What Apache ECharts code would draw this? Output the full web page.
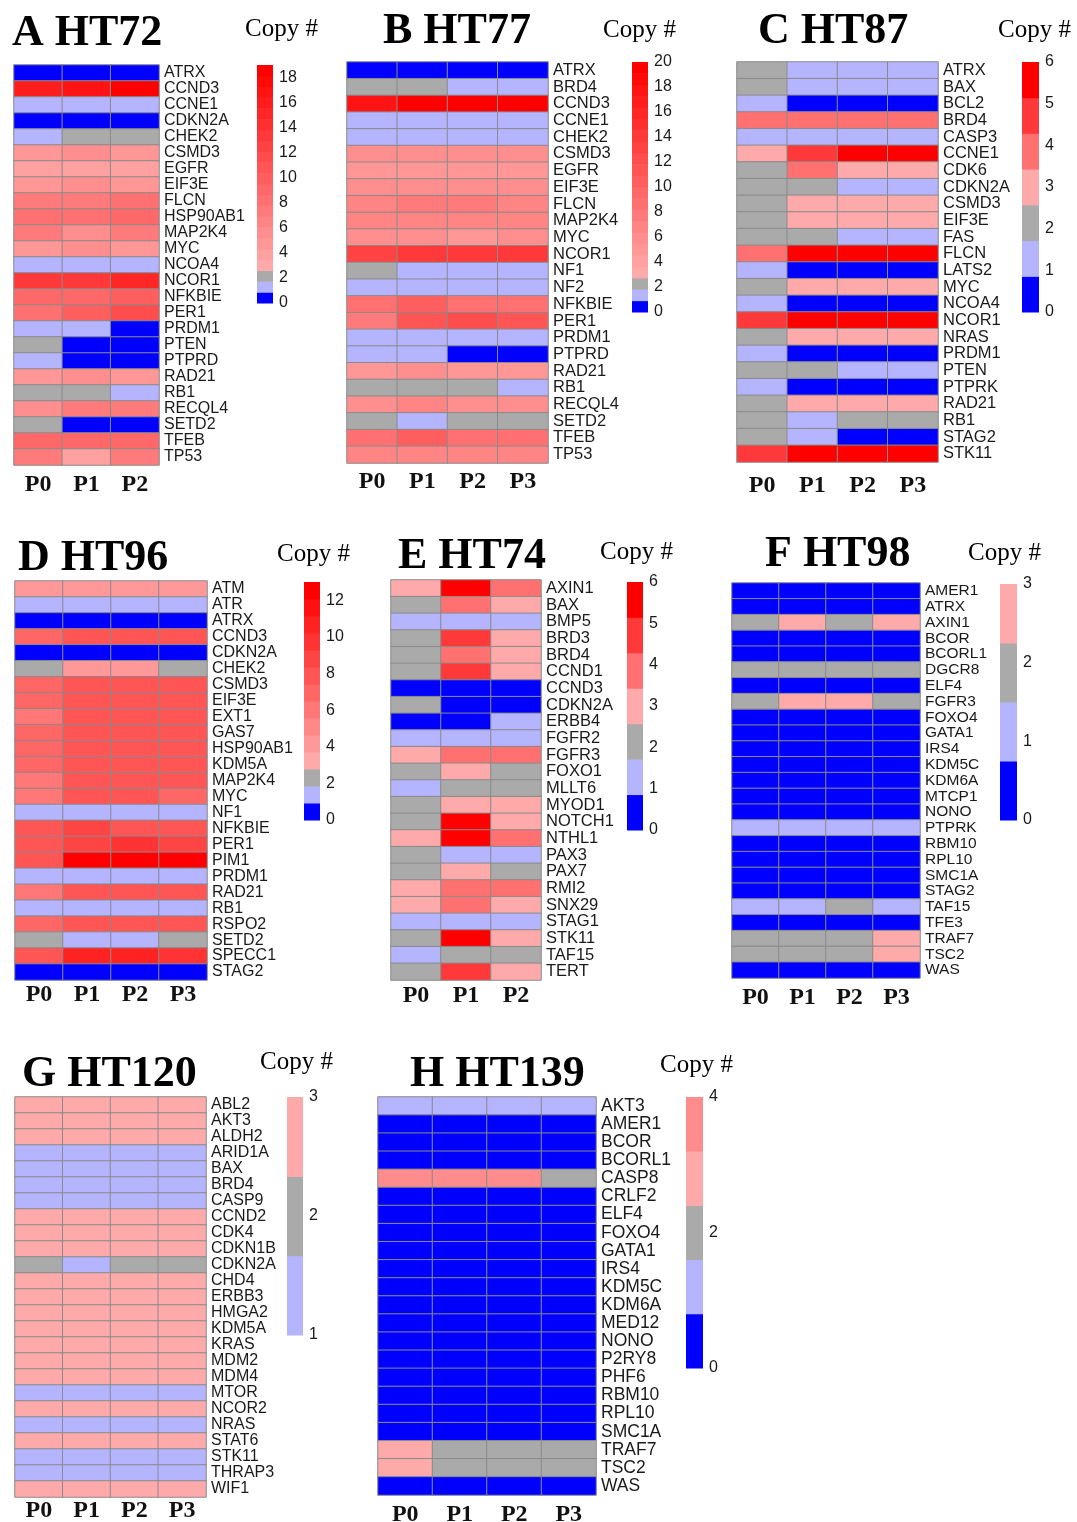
<!DOCTYPE html>
<html>
<head>
<meta charset="utf-8">
<script src="https://cdn.jsdelivr.net/npm/echarts@6/dist/echarts.min.js"></script>
<style>
  html, body { margin: 0; padding: 0; background: #fff; }
  #chart { width: 1077px; height: 1522px; }
</style>
</head>
<body>
<div id="chart"></div>
<script>
// passages
const samples3 = ['P0', 'P1', 'P2'];
const samples4 = ['P0', 'P1', 'P2', 'P3'];

// A HT72
const genesA = ['ATRX','CCND3','CCNE1','CDKN2A','CHEK2','CSMD3','EGFR','EIF3E','FLCN','HSP90AB1','MAP2K4','MYC','NCOA4','NCOR1','NFKBIE','PER1','PRDM1','PTEN','PTPRD','RAD21','RB1','RECQL4','SETD2','TFEB','TP53'];
const copyA = [
  [0,0,0],[16,17,19],[1,1,1],[0,0,0],[1,2,2],[5,6,5],[4,4,4],[5,6,5],[7,7,8],[8,8,9],
  [7,6,7],[5,6,5],[1,1,1],[13,13,15],[9,9,10],[8,10,12],[1,1,0],[2,0,0],[1,0,0],[5,6,5],
  [2,2,1],[6,7,7],[2,0,0],[9,9,9],[7,4,7]
];

// B HT77
const genesB = ['ATRX','BRD4','CCND3','CCNE1','CHEK2','CSMD3','EGFR','EIF3E','FLCN','MAP2K4','MYC','NCOR1','NF1','NF2','NFKBIE','PER1','PRDM1','PTPRD','RAD21','RB1','RECQL4','SETD2','TFEB','TP53'];
const copyB = [
  [0,0,0,0],[2,2,1,1],[18,20,20,20],[1,1,1,1],[1,1,1,1],[6,6,6,6],[5,5,5,5],[6,6,6,6],
  [7,8,8,7],[7,7,7,7],[6,6,5,6],[13,14,14,14],[2,1,1,1],[1,1,1,1],[9,10,9,9],[8,11,12,11],
  [1,1,1,1],[1,1,0,0],[5,6,5,5],[2,2,2,1],[6,7,6,6],[2,1,2,2],[9,10,9,9],[7,7,7,7]
];

// C HT87
const genesC = ['ATRX','BAX','BCL2','BRD4','CASP3','CCNE1','CDK6','CDKN2A','CSMD3','EIF3E','FAS','FLCN','LATS2','MYC','NCOA4','NCOR1','NRAS','PRDM1','PTEN','PTPRK','RAD21','RB1','STAG2','STK11'];
const copyC = [
  [2,1,1,1],[2,1,1,1],[1,0,0,0],[4,4,4,4],[1,1,1,1],[3,5,6,6],[2,4,3,3],[2,2,1,1],
  [2,3,3,3],[2,3,3,3],[2,2,1,1],[4,6,6,6],[1,0,0,0],[2,3,3,3],[1,0,0,0],[5,6,6,6],
  [2,3,3,3],[1,0,0,0],[2,2,1,1],[1,0,0,0],[2,3,3,3],[2,1,2,2],[2,1,0,0],[5,6,6,6]
];

// D HT96
const genesD = ['ATM','ATR','ATRX','CCND3','CDKN2A','CHEK2','CSMD3','EIF3E','EXT1','GAS7','HSP90AB1','KDM5A','MAP2K4','MYC','NF1','NFKBIE','PER1','PIM1','PRDM1','RAD21','RB1','RSPO2','SETD2','SPECC1','STAG2'];
const copyD = [
  [4,4,4,4],[1,1,1,1],[0,0,0,0],[7,8,8,8],[0,0,0,0],[2,4,4,2],[7,8,8,8],[7,8,8,8],
  [6,8,8,8],[7,8,8,8],[7,8,8,8],[7,8,8,8],[6,8,8,8],[6,8,8,7],[1,1,1,1],[8,9,8,8],
  [8,9,10,9],[8,13,13,13],[1,1,1,1],[6,8,8,8],[1,1,1,1],[7,8,8,8],[2,1,1,2],[8,11,11,10],
  [0,0,0,0]
];

// E HT74
const genesE = ['AXIN1','BAX','BMP5','BRD3','BRD4','CCND1','CCND3','CDKN2A','ERBB4','FGFR2','FGFR3','FOXO1','MLLT6','MYOD1','NOTCH1','NTHL1','PAX3','PAX7','RMI2','SNX29','STAG1','STK11','TAF15','TERT'];
const copyE = [
  [3,6,4],[2,4,3],[1,1,1],[2,5,3],[2,4,3],[2,5,3],[0,0,0],[2,0,0],[0,0,1],[1,1,1],
  [3,4,4],[2,3,2],[1,2,2],[2,3,3],[2,6,3],[3,6,4],[2,1,1],[2,3,2],[3,4,4],[3,4,3],
  [1,1,1],[2,6,3],[1,2,2],[2,5,3]
];

// F HT98
const genesF = ['AMER1','ATRX','AXIN1','BCOR','BCORL1','DGCR8','ELF4','FGFR3','FOXO4','GATA1','IRS4','KDM5C','KDM6A','MTCP1','NONO','PTPRK','RBM10','RPL10','SMC1A','STAG2','TAF15','TFE3','TRAF7','TSC2','WAS'];
const copyF = [
  [0,0,0,0],[0,0,0,0],[2,3,2,3],[0,0,0,0],[0,0,0,0],[2,2,2,2],[0,0,0,0],[2,3,3,2],
  [0,0,0,0],[0,0,0,0],[0,0,0,0],[0,0,0,0],[0,0,0,0],[0,0,0,0],[0,0,0,0],[1,1,1,1],
  [0,0,0,0],[0,0,0,0],[0,0,0,0],[0,0,0,0],[1,1,2,1],[0,0,0,0],[2,2,2,3],[2,2,2,3],
  [0,0,0,0]
];

// G HT120
const genesG = ['ABL2','AKT3','ALDH2','ARID1A','BAX','BRD4','CASP9','CCND2','CDK4','CDKN1B','CDKN2A','CHD4','ERBB3','HMGA2','KDM5A','KRAS','MDM2','MDM4','MTOR','NCOR2','NRAS','STAT6','STK11','THRAP3','WIF1'];
const copyG = [
  [3,3,3,3],[3,3,3,3],[3,3,3,3],[1,1,1,1],[1,1,1,1],[1,1,1,1],[1,1,1,1],[3,3,3,3],
  [3,3,3,3],[3,3,3,3],[2,1,2,2],[3,3,3,3],[3,3,3,3],[3,3,3,3],[3,3,3,3],[3,3,3,3],
  [3,3,3,3],[3,3,3,3],[1,1,1,1],[3,3,3,3],[1,1,1,1],[3,3,3,3],[1,1,1,1],[1,1,1,1],
  [3,3,3,3]
];

// H HT139
const genesH = ['AKT3','AMER1','BCOR','BCORL1','CASP8','CRLF2','ELF4','FOXO4','GATA1','IRS4','KDM5C','KDM6A','MED12','NONO','P2RY8','PHF6','RBM10','RPL10','SMC1A','TRAF7','TSC2','WAS'];
const copyH = [
  [1,1,1,1],[0,0,0,0],[0,0,0,0],[0,0,0,0],[4,4,4,2],[0,0,0,0],[0,0,0,0],[0,0,0,0],
  [0,0,0,0],[0,0,0,0],[0,0,0,0],[0,0,0,0],[0,0,0,0],[0,0,0,0],[0,0,0,0],[0,0,0,0],
  [0,0,0,0],[0,0,0,0],[0,0,0,0],[3,2,2,2],[3,2,2,2],[0,0,0,0]
];

// colour scale ranges: [min, max, bins, tick step, hottest colour]
const scaleA = [0, 19, 22, 2, '#ff0000'];
const scaleB = [0, 20, 22, 2, '#ff0000'];
const scaleC = [0, 6, 7, 1, '#ff0000'];
const scaleD = [0, 13, 14, 2, '#ff0000'];
const scaleE = [0, 6, 7, 1, '#ff0000'];
const scaleF = [0, 3, 4, 1, '#ffaaaa'];
const scaleG = [1, 3, 3, 1, '#ffaaaa'];
const scaleH = [0, 4, 5, 2, '#ff8c8c'];

// layout: heat grid [l,t,w,h], colour bar [l,t,w,h], title [l,t], copy# [l,t], x label margin, gene font
const panels = [
  { name: 'A HT72',  genes: genesA, copy: copyA, samples: samples3, scale: scaleA, grid: [14, 65, 145, 400],  bar: [257, 65, 16, 238],   title: [12, 12],    head: [245, 17],   xm: 8,  fs: 16 },
  { name: 'B HT77',  genes: genesB, copy: copyB, samples: samples4, scale: scaleB, grid: [347, 62, 201, 401], bar: [632, 62, 16, 250],   title: [383, 10],   head: [603, 18],   xm: 7,  fs: 16.5 },
  { name: 'C HT87',  genes: genesC, copy: copyC, samples: samples4, scale: scaleC, grid: [737, 62, 201, 400], bar: [1022, 62, 17, 250],  title: [758, 10],   head: [998, 18],   xm: 12, fs: 16.5 },
  { name: 'D HT96',  genes: genesD, copy: copyD, samples: samples4, scale: scaleD, grid: [15, 581, 192, 399], bar: [304, 582, 16, 238],  title: [18, 537],   head: [277, 542],  xm: 3,  fs: 16 },
  { name: 'E HT74',  genes: genesE, copy: copyE, samples: samples3, scale: scaleE, grid: [391, 580, 150, 400], bar: [627, 582, 16, 248], title: [398, 535],  head: [600, 540],  xm: 4,  fs: 16.5 },
  { name: 'F HT98',  genes: genesF, copy: copyF, samples: samples4, scale: scaleF, grid: [732, 583, 188, 395], bar: [1000, 584, 17, 236], title: [765, 533], head: [968, 541],  xm: 8,  fs: 15.5 },
  { name: 'G HT120', genes: genesG, copy: copyG, samples: samples4, scale: scaleG, grid: [15, 1097, 191, 400], bar: [287, 1097, 16, 238], title: [22, 1053], head: [260, 1050], xm: 2,  fs: 16 },
  { name: 'H HT139', genes: genesH, copy: copyH, samples: samples4, scale: scaleH, grid: [378, 1097, 218, 398], bar: [686, 1097, 17, 271], title: [410, 1053], head: [660, 1053], xm: 8,  fs: 17.5 }
];

const BLUE = '#0000ff', LBLUE = '#b4b4ff', GRAY = '#aaaaaa';
const SANS = 'Liberation Sans', SERIF = 'Liberation Serif';

function hex2(n) { return Math.round(n).toString(16).padStart(2, '0'); }

// pheatmap-like evenly spaced breaks: blue, light blue, gray, then pink -> red
function makePieces(scale) {
  const [min, max, bins, , hot] = scale;
  const w = (max - min) / bins;
  const lows = min === 0 ? [BLUE, LBLUE, GRAY] : [LBLUE, GRAY];
  const nPink = bins - lows.length;
  const hotGB = parseInt(hot.slice(3, 5), 16);
  const colors = lows.slice();
  for (let i = 0; i < nPink; i++) {
    const t = nPink === 1 ? 0 : i / (nPink - 1);
    const gb = 170 + (hotGB - 170) * t;
    colors.push('#ff' + hex2(gb) + hex2(gb));
  }
  return colors.map((c, i) => ({ lo: min + i * w, hi: min + (i + 1) * w, color: c }));
}

const grids = [], xAxes = [], yAxes = [], series = [], visualMaps = [], titles = [];

panels.forEach((p) => {
  const pieces = makePieces(p.scale);
  const gi = grids.length;

  // heatmap grid
  grids.push({ left: p.grid[0], top: p.grid[1], width: p.grid[2], height: p.grid[3], outerBoundsMode: 'none', containLabel: false });
  xAxes.push({
    type: 'category', gridIndex: gi, data: p.samples, position: 'bottom',
    axisLine: { show: false }, axisTick: { show: false }, splitLine: { show: false },
    axisLabel: { fontFamily: SERIF, fontWeight: 'bold', fontSize: 24, color: '#111', margin: p.xm }
  });
  yAxes.push({
    type: 'category', gridIndex: gi, data: p.genes, inverse: true, position: 'right',
    axisLine: { show: false }, axisTick: { show: false }, splitLine: { show: false },
    axisLabel: { interval: 0, fontFamily: SANS, fontSize: p.fs, color: '#1a1a1a', margin: 5 }
  });
  const cells = [];
  p.copy.forEach((row, r) => row.forEach((v, c) => cells.push([c, r, v])));
  const si = series.length;
  series.push({
    type: 'heatmap', xAxisIndex: gi, yAxisIndex: gi, data: cells,
    itemStyle: { borderColor: '#8a8a8a', borderWidth: 1 },
    emphasis: { disabled: true }, silent: true
  });
  visualMaps.push({
    type: 'piecewise', show: false, seriesIndex: si, dimension: 2,
    pieces: pieces.map((pc, i) => i === pieces.length - 1
      ? { gte: pc.lo, lte: pc.hi, color: pc.color }
      : { gte: pc.lo, lt: pc.hi, color: pc.color })
  });

  // colour bar grid
  const bi = grids.length;
  const [min, max, , tick] = p.scale;
  grids.push({ left: p.bar[0], top: p.bar[1], width: p.bar[2], height: p.bar[3], outerBoundsMode: 'none', containLabel: false });
  xAxes.push({ type: 'value', gridIndex: bi, min: 0, max: 1, show: false });
  yAxes.push({
    type: 'value', gridIndex: bi, min: min, max: max, interval: tick, position: 'right',
    axisLine: { show: false }, axisTick: { show: false }, splitLine: { show: false },
    axisLabel: { fontFamily: SANS, fontSize: 16, color: '#1a1a1a', margin: 6,
      showMaxLabel: (max - min) % tick === 0 }
  });
  series.push({
    type: 'custom', xAxisIndex: bi, yAxisIndex: bi, silent: true,
    encode: { x: 0, y: [1, 2] },
    data: pieces.map(pc => ({ value: [0, pc.lo, pc.hi], itemStyle: { color: pc.color } })),
    renderItem: function (params, api) {
      const cs = params.coordSys;
      const yTop = api.coord([0, api.value(2)])[1];
      const yBot = api.coord([0, api.value(1)])[1];
      return {
        type: 'rect',
        shape: { x: cs.x, y: yTop, width: cs.width, height: yBot - yTop + 0.5 },
        style: { fill: api.visual('color') }
      };
    }
  });

  titles.push({
    text: p.name, left: p.title[0], top: p.title[1], padding: 0,
    textStyle: { fontFamily: SERIF, fontWeight: 'bold', fontSize: 44, color: '#000' }
  });
  titles.push({
    text: 'Copy #', left: p.head[0], top: p.head[1], padding: 0,
    textStyle: { fontFamily: SERIF, fontWeight: 'normal', fontSize: 25, color: '#000' }
  });
});

const myChart = echarts.init(document.getElementById('chart'));
myChart.setOption({
  backgroundColor: '#fff',
  animation: false,
  title: titles,
  grid: grids,
  xAxis: xAxes,
  yAxis: yAxes,
  visualMap: visualMaps,
  series: series
});
</script>
</body>
</html>
